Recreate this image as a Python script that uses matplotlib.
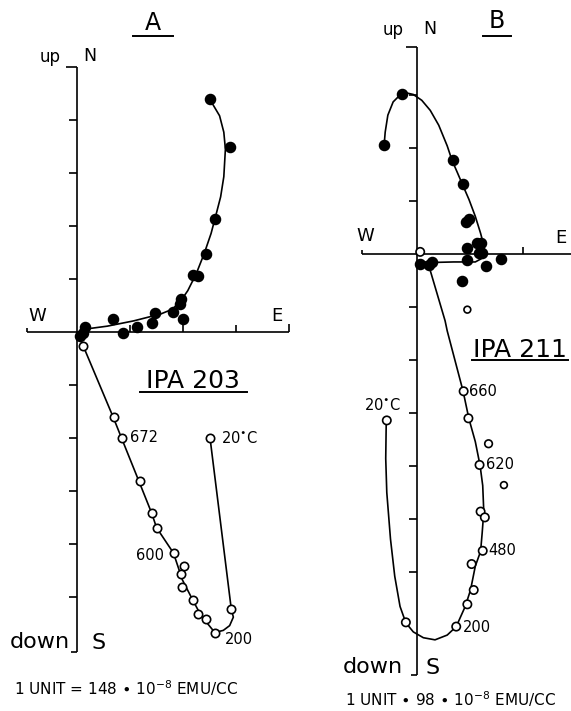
import matplotlib
matplotlib.use("Agg")
import matplotlib.pyplot as plt

plt.rcParams['font.family'] = 'DejaVu Sans'
plt.rcParams['mathtext.fontset'] = 'dejavusans'

INK = 'black'
LW = 1.2

# ---- A: IPA 203 (1 unit = 148e-8 emu/cc) ----
# horizontal projection (N vs E), filled dots
a_hor_e = [2.50, 2.88, 2.61, 2.44, 2.19, 2.29, 1.96, 1.94, 1.81, 1.47, 1.41, 1.14, 0.67, 2.00, 0.86, 0.15, 0.11, 0.05]
a_hor_n = [4.40, 3.50, 2.13, 1.47, 1.07, 1.05, 0.63, 0.53, 0.38, 0.36, 0.17, 0.10, 0.25, 0.25, -0.02, 0.10, -0.02, -0.08]
# hand-drawn curve through the filled dots
a_hor_curve_e = [2.50, 2.69, 2.77, 2.80, 2.77, 2.71, 2.63, 2.53, 2.40, 2.25, 2.09, 1.96, 1.80, 1.58, 1.07, 0.57, 0.12]
a_hor_curve_n = [4.40, 4.08, 3.77, 3.45, 2.93, 2.55, 2.24, 1.86, 1.48, 1.10, 0.78, 0.59, 0.43, 0.34, 0.21, 0.11, 0.05]
# vertical projection (down vs E), open circles
a_ver_e = [0.11, 0.69, 0.84, 1.18, 1.41, 1.50, 1.83, 2.02, 1.96, 1.98, 2.19, 2.29, 2.44, 2.61, 2.90, 2.51]
a_ver_z = [-0.27, -1.60, -2.00, -2.82, -3.41, -3.70, -4.17, -4.42, -4.57, -4.82, -5.05, -5.33, -5.41, -5.68, -5.22, -2.00]
a_ver_curve_e = [0.02, 0.12, 0.68, 0.84, 1.17, 1.41, 1.50, 1.82, 1.99, 2.18, 2.34, 2.60, 2.76, 2.88, 2.95, 2.91, 2.51]
a_ver_curve_z = [-0.05, -0.27, -1.60, -2.00, -2.82, -3.42, -3.69, -4.17, -4.68, -5.05, -5.35, -5.67, -5.63, -5.54, -5.38, -5.22, -2.00]
a_label_idx = [2, 6, 13, 15]
a_label_txt = ['672', '600', '200', r'20$^{\bullet}$C']

# ---- B: IPA 211 (1 unit = 98e-8 emu/cc) ----
b_hor_e = [-0.29, -0.63, 0.67, 0.86, 0.93, 0.99, 1.14, 1.20, 0.95, 1.17, 1.23, 0.95, 1.58, 1.31, 0.85, 0.06, 0.28, 0.23]
b_hor_n = [3.01, 2.06, 1.77, 1.33, 0.60, 0.66, 0.20, 0.20, 0.11, 0.01, 0.01, -0.11, -0.10, -0.23, -0.51, -0.18, -0.15, -0.20]
b_hor_curve_e = [-0.62, -0.60, -0.55, -0.45, -0.32, -0.20, -0.07, 0.09, 0.25, 0.41, 0.57, 0.66, 0.76, 0.85,
                 0.98, 1.10, 1.20, 1.25, 1.28, 1.23, 1.10, 0.69, 0.28, 0.12]
b_hor_curve_n = [2.06, 2.30, 2.62, 2.87, 3.00, 3.04, 3.01, 2.90, 2.71, 2.43, 2.04, 1.77, 1.54, 1.33,
                 1.03, 0.71, 0.39, 0.20, 0.04, -0.08, -0.15, -0.15, -0.16, -0.15]
b_ver_e = [0.88, 0.97, 1.35, 1.18, 1.64, 1.20, 1.28, 1.24, 1.03, 1.07, 0.95, 0.74, -0.21, -0.57, 0.06, 0.95]
b_ver_z = [-2.59, -3.10, -3.58, -3.98, -4.36, -4.86, -4.97, -5.60, -5.85, -6.34, -6.61, -7.03, -6.95, -3.14, 0.04, -1.05]
b_ver_size = [36, 36, 30, 36, 24, 36, 36, 36, 36, 36, 36, 36, 36, 36, 36, 24]
b_ver_curve_e = [0.12, 0.22, 0.53, 0.57, 0.87, 0.98, 1.10, 1.19, 1.24, 1.26, 1.23, 1.20, 1.10, 1.01, 0.91,
                 0.74, 0.57, 0.34, 0.12, -0.07, -0.21, -0.32, -0.42, -0.50, -0.57, -0.59, -0.58]
b_ver_curve_z = [-0.15, -0.21, -1.26, -1.45, -2.59, -3.11, -3.54, -3.99, -4.37, -4.86, -5.26, -5.61, -5.89,
                 -6.34, -6.65, -7.03, -7.19, -7.28, -7.24, -7.13, -6.96, -6.65, -6.08, -5.38, -4.50, -3.86, -3.14]
b_label_idx = [0, 3, 7, 11, 13]
b_label_txt = ['660', '620', '480', '200', r'20$^{\bullet}$C']

W_PX, H_PX, UNIT = 571, 711, 53.0

fig = plt.figure(figsize=(W_PX / 100, H_PX / 100), dpi=100)


def make_panel(ox, oy):
    ax = fig.add_axes([0, 0, 1, 1])
    ax.set_xlim(-ox / UNIT, (W_PX - ox) / UNIT)
    ax.set_ylim(-(H_PX - oy) / UNIT, oy / UNIT)
    ax.axis('off')
    return ax


def draw_cross(ax, x_left, x_right, y_top, y_bottom, xticks, yticks):
    kw = dict(color=INK, lw=LW, solid_capstyle='butt')
    ax.plot([0, 0], [y_bottom, y_top], **kw)
    ax.plot([x_left, x_right], [0, 0], **kw)
    for t in xticks:
        ax.plot([t, t], [0, 0.13], **kw)
    for t in yticks:
        ax.plot([-0.15, 0], [t, t], **kw)
    ax.plot([-0.2, 0], [y_top, y_top], **kw)
    ax.plot([-0.12, 0], [y_bottom, y_bottom], **kw)
    ax.plot([x_left, x_left], [0, 0.08], **kw)
    ax.plot([x_right, x_right], [0, 0.15], **kw)


def draw_data(ax, he, hn, hce, hcn, ve, vz, vce, vcz, vsize=36):
    ax.plot(hce, hcn, color=INK, lw=LW, zorder=2)
    ax.plot(vce, vcz, color=INK, lw=LW, zorder=2)
    ax.plot(he, hn, 'o', ms=7.3, color=INK, zorder=3)
    ax.scatter(ve, vz, s=vsize, facecolor='white', edgecolor=INK, lw=1.2, zorder=4)


def underline(ax, x0, x1, y):
    ax.plot([x0, x1], [y, y], color=INK, lw=1.4)


# panel A
axA = make_panel(77, 332)
draw_cross(axA, -0.95, 4.0, 5.0, -6.04, [1, 2, 3], [4, 3, 2, 1, -1, -2, -3, -4, -5])
draw_data(axA, a_hor_e, a_hor_n, a_hor_curve_e, a_hor_curve_n,
          a_ver_e, a_ver_z, a_ver_curve_e, a_ver_curve_z)
a_offsets = [(6, 0, 'left'), (-7, -2, 'right'), (7, -5, 'left'), (8, 0, 'left')]
for i, txt, (dx, dy, ha) in zip(a_label_idx, a_label_txt, a_offsets):
    axA.annotate(txt, (a_ver_e[i], a_ver_z[i]), xytext=(dx, dy), textcoords='offset points',
                 ha=ha, va='center', fontsize=10.5)

axA.text(1.43, 5.83, 'A', ha='center', va='center', fontsize=17)
underline(axA, 1.06, 1.81, 5.58)
axA.text(-0.51, 5.19, 'up', ha='center', va='center', fontsize=12)
axA.text(0.25, 5.21, 'N', ha='center', va='center', fontsize=12.5)
axA.text(-0.75, 0.30, 'W', ha='center', va='center', fontsize=13)
axA.text(3.77, 0.30, 'E', ha='center', va='center', fontsize=13)
axA.text(2.19, -0.93, 'IPA 203', ha='center', va='center', fontsize=18)
underline(axA, 1.19, 3.21, -1.13)
axA.text(-0.70, -5.85, 'down', ha='center', va='center', fontsize=16)
axA.text(0.40, -5.87, 'S', ha='center', va='center', fontsize=16)
axA.text(-1.19, -6.72, r'1 UNIT = 148 $\bullet$ 10$^{-8}$ EMU/CC', ha='left', va='center', fontsize=11)

# panel B
axB = make_panel(417, 254)
draw_cross(axB, -1.04, 3.2, 3.9, -7.94, [1, 2], [3, 2, 1, -1, -2, -3, -4, -5, -6])
draw_data(axB, b_hor_e, b_hor_n, b_hor_curve_e, b_hor_curve_n,
          b_ver_e, b_ver_z, b_ver_curve_e, b_ver_curve_z, b_ver_size)
b_offsets = [(4, 0, 'left', 'center'), (5, 0, 'left', 'center'), (4, 0, 'left', 'center'),
             (5, -1, 'left', 'center'), (-3, 5, 'center', 'bottom')]
for i, txt, (dx, dy, ha, va) in zip(b_label_idx, b_label_txt, b_offsets):
    axB.annotate(txt, (b_ver_e[i], b_ver_z[i]), xytext=(dx, dy), textcoords='offset points',
                 ha=ha, va=va, fontsize=10.5)

axB.text(1.51, 4.40, 'B', ha='center', va='center', fontsize=17)
underline(axB, 1.25, 1.77, 4.11)
axB.text(-0.45, 4.23, 'up', ha='center', va='center', fontsize=12)
axB.text(0.25, 4.25, 'N', ha='center', va='center', fontsize=12.5)
axB.text(-0.98, 0.34, 'W', ha='center', va='center', fontsize=13)
axB.text(2.72, 0.30, 'E', ha='center', va='center', fontsize=13)
axB.text(1.94, -1.81, 'IPA 211', ha='center', va='center', fontsize=18)
underline(axB, 1.04, 2.85, -2.00)
axB.text(-0.83, -7.79, 'down', ha='center', va='center', fontsize=16)
axB.text(0.30, -7.81, 'S', ha='center', va='center', fontsize=16)
axB.text(-1.36, -8.40, r'1 UNIT $\bullet$ 98 $\bullet$ 10$^{-8}$ EMU/CC', ha='left', va='center', fontsize=11)

fig.savefig('out.png', dpi=100, facecolor='white')
